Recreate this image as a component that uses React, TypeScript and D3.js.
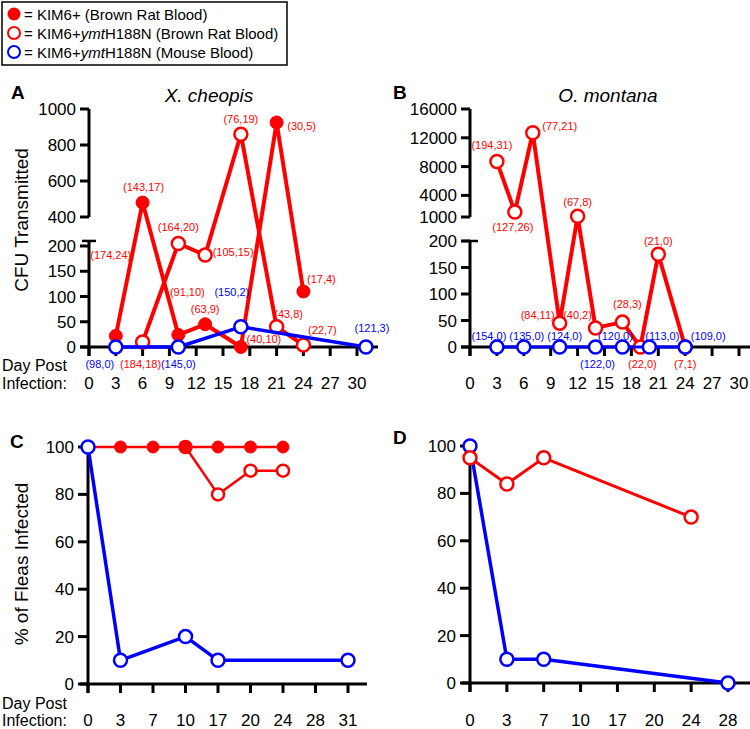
import React from "react";
import * as d3 from "d3";

const RED = "#ff0000";
const BLUE = "#0000ff";
const FONT = "'Liberation Sans', Arial, Helvetica, sans-serif";

// ---------- Panel A : X. cheopis (CFU transmitted) ----------
const daysA_wt = [3, 6, 10, 13, 17, 21, 24];
const cfuA_wt = [22, 480, 24, 45, 0, 925, 110];
const lblA_wt = ["(174,24)", "(143,17)", "(91,10)", "(63,9)", "(40,10)", "(30,5)", "(17,4)"];

const daysA_mut = [6, 10, 13, 17, 21, 24];
const cfuA_mut = [10, 205, 182, 860, 40, 4];
const lblA_mut = ["(184,18)", "(164,20)", "(105,15)", "(76,19)", "(43,8)", "(22,7)"];

const daysA_mouse = [3, 10, 17, 31];
const cfuA_mouse = [0, 0, 40, 0];
const lblA_mouse = ["(98,0)", "(145,0)", "(150,2)", "(121,3)"];

// ---------- Panel B : O. montana ----------
const daysB_mut = [3, 5, 7, 10, 12, 14, 17, 19, 21, 24];
const cfuB_mut = [8700, 1700, 12700, 45, 1100, 36, 47, 0, 175, 0];
const lblB_mut = ["(194,31)", "(127,26)", "(77,21)", "(84,11)", "(67,8)", "(40,2)", "(28,3)", "(22,0)", "(21,0)", "(7,1)"];

const daysB_mouse = [3, 6, 10, 14, 17, 20, 24];
const cfuB_mouse = [0, 0, 0, 0, 0, 0, 0];
const lblB_mouse = ["(154,0)", "(135,0)", "(124,0)", "(122,0)", "(120,0)", "(113,0)", "(109,0)"];

// ---------- Axis ticks ----------
const ticksDayAB = [0, 3, 6, 9, 12, 15, 18, 21, 24, 27, 30];
const ticksA_up = [400, 600, 800, 1000];
const ticksA_low = [0, 50, 100, 150, 200];
const ticksB_up = [1000, 4000, 8000, 12000, 16000];
const ticksB_low = [0, 50, 100, 150, 200];
const ticksPct = [0, 20, 40, 60, 80, 100];

// ---------- Panel C : % infected X. cheopis ----------
const catsC = ["0", "3", "7", "10", "17", "20", "24", "28", "31"];
const daysC_wt = ["0", "3", "7", "10", "17", "20", "24"];
const pctC_wt = [100, 100, 100, 100, 100, 100, 100];
const daysC_mut = ["10", "17", "20", "24"];
const pctC_mut = [100, 80, 90, 90];
const daysC_mouse = ["0", "3", "10", "17", "31"];
const pctC_mouse = [100, 10, 20, 10, 10];

// ---------- Panel D : % infected O. montana ----------
const catsD = ["0", "3", "7", "10", "17", "20", "24", "28"];
const daysD_mut = ["0", "3", "7", "24"];
const pctD_mut = [95, 84, 95, 70];
const daysD_mouse = ["0", "3", "7", "28"];
const pctD_mouse = [100, 10, 10, 0];

// label placement (layout only: offsets from the point, px)
const offA_wt = [[-5, -77], [1, -12], [9, -39], [0, -11], [23, -4], [25, 7], [18, -8]];
const offA_mut = [[-2, 26], [0, -12], [28, 1], [0, -11], [12, -9], [19, -11]];
const offA_mouse = [[-16, 21], [0, 21], [-9, -31], [6, -15]];
const offB_mut = [[-5, -13], [-2, 19], [27, -3], [-22, -4], [0, -10], [-18, -9], [5, -14], [2, 21], [0, -9], [0, 21]];
const offB_mouse = [[-8, -7], [3, -7], [5, -7], [2, 21], [-7, -7], [13, -7], [23, -7]];

type Pt = [number, number];

function Series({ pts, color, filled, lw, r, labels, offs }: {
  pts: Pt[]; color: string; filled: boolean; lw: number; r: number;
  labels?: string[]; offs?: number[][];
}) {
  const path = d3.line()(pts) || "";
  return (
    <g>
      <path d={path} fill="none" stroke={color} strokeWidth={lw} strokeLinejoin="round" />
      {pts.map((p, i) => (
        <circle key={i} cx={p[0]} cy={p[1]} r={r}
          fill={filled ? color : "#fff"} stroke={color} strokeWidth={filled ? 1 : 2.5} />
      ))}
      {labels && offs && pts.map((p, i) => (
        <text key={"l" + i} x={p[0] + offs[i][0]} y={p[1] + offs[i][1]} fill={color}
          fontSize={11} textAnchor="middle" fontFamily={FONT}>{labels[i]}</text>
      ))}
    </g>
  );
}

export default function App() {
  const xA = d3.scaleLinear().domain([0, 30]).range([89, 357]);
  const xB = d3.scaleLinear().domain([0, 30]).range([470, 739]);
  const yALow = d3.scaleLinear().domain([0, 200]).range([347, 246]);
  const yAUp = d3.scaleLinear().domain([400, 1000]).range([217, 109]);
  const yA = (v: number) => (v > 300 ? yAUp(v) : yALow(v));
  const yBLow = d3.scaleLinear().domain([0, 200]).range([347, 241]);
  const yBUp = d3.scaleLinear().domain([1000, 16000]).range([217, 109]);
  const yB = (v: number) => (v > 250 ? yBUp(v) : yBLow(v));

  const xC = d3.scalePoint().domain(catsC).range([88, 348]);
  const yC = d3.scaleLinear().domain([0, 100]).range([684, 447]);
  const xD = d3.scalePoint().domain(catsD).range([470, 728]);
  const yD = d3.scaleLinear().domain([0, 100]).range([683, 446]);

  const tickFs = 17;
  const axW = 3;
  const bottomY = 726;

  const ptsA = (ds: number[], vs: number[]): Pt[] => ds.map((d, i) => [xA(d), yA(vs[i])]);
  const ptsB = (ds: number[], vs: number[]): Pt[] => ds.map((d, i) => [xB(d), yB(vs[i])]);
  const ptsC = (ds: string[], vs: number[]): Pt[] => ds.map((d, i) => [xC(d) as number, yC(vs[i])]);
  const ptsD = (ds: string[], vs: number[]): Pt[] => ds.map((d, i) => [xD(d) as number, yD(vs[i])]);

  const yTicks = (x0: number, ticks: number[], sc: (v: number) => number, len = 9) =>
    ticks.map((t) => (
      <g key={t}>
        <line x1={x0 - len} x2={x0} y1={sc(t)} y2={sc(t)} stroke="#000" strokeWidth={axW} />
        <text x={x0 - len - 4} y={sc(t) + 6} textAnchor="end" fontSize={tickFs} fontFamily={FONT}>{t}</text>
      </g>
    ));

  const xTicksLin = (ticks: number[], sc: (v: number) => number, y0: number, labelY: number) =>
    ticks.map((t) => (
      <g key={t}>
        <line x1={sc(t)} x2={sc(t)} y1={y0} y2={y0 + 9} stroke="#000" strokeWidth={axW} />
        <text x={sc(t)} y={labelY} textAnchor="middle" fontSize={tickFs} fontFamily={FONT}>{t}</text>
      </g>
    ));

  const xTicksCat = (cats: string[], sc: any, y0: number, labelY: number) =>
    cats.map((t) => (
      <g key={t}>
        <line x1={sc(t)} x2={sc(t)} y1={y0} y2={y0 + 9} stroke="#000" strokeWidth={axW} />
        <text x={sc(t)} y={labelY} textAnchor="middle" fontSize={tickFs} fontFamily={FONT}>{t}</text>
      </g>
    ));

  return (
    <svg width={750} height={729} style={{ position: "absolute", left: 0, top: 0, background: "#fff" }}
      fontFamily={FONT}>
      <rect x={0} y={0} width={750} height={729} fill="#fff" />

      {/* Legend */}
      <rect x={2} y={2} width={285} height={63} fill="#fff" stroke="#000" strokeWidth={1.5} />
      <circle cx={14} cy={14} r={6.5} fill={RED} />
      <circle cx={14} cy={33} r={6} fill="#fff" stroke={RED} strokeWidth={2} />
      <circle cx={14} cy={52} r={6} fill="#fff" stroke={BLUE} strokeWidth={2} />
      <text x={24} y={19.5} fontSize={15}>= KIM6+ (Brown Rat Blood)</text>
      <text x={24} y={38.5} fontSize={15}>= KIM6+<tspan fontStyle="italic">ymt</tspan>H188N (Brown Rat Blood)</text>
      <text x={24} y={57.5} fontSize={15}>= KIM6+<tspan fontStyle="italic">ymt</tspan>H188N (Mouse Blood)</text>

      {/* ================= Panel A ================= */}
      <text x={11} y={99} fontSize={19} fontWeight="bold">A</text>
      <text x={209} y={102} fontSize={19} fontStyle="italic" textAnchor="middle">X. cheopis</text>
      <text transform="translate(28,220) rotate(-90)" fontSize={19} textAnchor="middle">CFU Transmitted</text>
      <line x1={89} x2={89} y1={yAUp(1000)} y2={yAUp(400)} stroke="#000" strokeWidth={axW} />
      {yTicks(89, ticksA_up, yAUp)}
      <line x1={89} x2={89} y1={yALow(210)} y2={yALow(0) + 9} stroke="#000" strokeWidth={axW} />
      <line x1={82} x2={96} y1={yALow(210)} y2={yALow(210)} stroke="#000" strokeWidth={2.5} />
      {yTicks(89, ticksA_low, yALow)}
      <line x1={80} x2={378} y1={yALow(0)} y2={yALow(0)} stroke="#000" strokeWidth={axW} />
      {xTicksLin(ticksDayAB, xA, yALow(0), 389)}
      <text x={2} y={371} fontSize={16}>Day Post</text>
      <text x={2} y={389} fontSize={16}>Infection:</text>

      <Series pts={ptsA(daysA_wt, cfuA_wt)} color={RED} filled lw={4} r={6.5} labels={lblA_wt} offs={offA_wt} />
      <Series pts={ptsA(daysA_mut, cfuA_mut)} color={RED} filled={false} lw={4} r={6.5} labels={lblA_mut} offs={offA_mut} />
      <Series pts={ptsA(daysA_mouse, cfuA_mouse)} color={BLUE} filled={false} lw={3.5} r={6.5} labels={lblA_mouse} offs={offA_mouse} />

      {/* ================= Panel B ================= */}
      <text x={393} y={99} fontSize={19} fontWeight="bold">B</text>
      <text x={608} y={102} fontSize={19} fontStyle="italic" textAnchor="middle">O. montana</text>
      <line x1={470} x2={470} y1={yBUp(16000)} y2={yBUp(1000)} stroke="#000" strokeWidth={axW} />
      {yTicks(470, ticksB_up, yBUp)}
      <line x1={470} x2={470} y1={yBLow(200)} y2={yBLow(0) + 9} stroke="#000" strokeWidth={axW} />
      <line x1={463} x2={478} y1={yBLow(200)} y2={yBLow(200)} stroke="#000" strokeWidth={2.5} />
      {yTicks(470, ticksB_low, yBLow)}
      <line x1={461} x2={750} y1={yBLow(0)} y2={yBLow(0)} stroke="#000" strokeWidth={axW} />
      {xTicksLin(ticksDayAB, xB, yBLow(0), 389)}

      <Series pts={ptsB(daysB_mut, cfuB_mut)} color={RED} filled={false} lw={4} r={6.5} labels={lblB_mut} offs={offB_mut} />
      <Series pts={ptsB(daysB_mouse, cfuB_mouse)} color={BLUE} filled={false} lw={3} r={6.5} labels={lblB_mouse} offs={offB_mouse} />

      {/* ================= Panel C ================= */}
      <text x={10} y={448} fontSize={19} fontWeight="bold">C</text>
      <text transform="translate(28,564) rotate(-90)" fontSize={19} textAnchor="middle">% of Fleas Infected</text>
      <line x1={88} x2={88} y1={yC(100)} y2={yC(0) + 9} stroke="#000" strokeWidth={axW} />
      {yTicks(88, ticksPct, yC, 10)}
      <line x1={80} x2={367} y1={yC(0)} y2={yC(0)} stroke="#000" strokeWidth={axW} />
      {xTicksCat(catsC, xC, yC(0), bottomY)}
      <text x={2} y={709} fontSize={16}>Day Post</text>
      <text x={2} y={bottomY} fontSize={16}>Infection:</text>

      <Series pts={ptsC(daysC_mut, pctC_mut)} color={RED} filled={false} lw={2.5} r={6} />
      <Series pts={ptsC(daysC_wt, pctC_wt)} color={RED} filled lw={2.5} r={6} />
      <Series pts={ptsC(daysC_mouse, pctC_mouse)} color={BLUE} filled={false} lw={3.5} r={6.5} />

      {/* ================= Panel D ================= */}
      <text x={393} y={444} fontSize={19} fontWeight="bold">D</text>
      <line x1={470} x2={470} y1={yD(100)} y2={yD(0) + 9} stroke="#000" strokeWidth={axW} />
      {yTicks(470, ticksPct, yD, 10)}
      <line x1={462} x2={750} y1={yD(0)} y2={yD(0)} stroke="#000" strokeWidth={axW} />
      {xTicksCat(catsD, xD, yD(0), bottomY)}

      <Series pts={ptsD(daysD_mouse, pctD_mouse)} color={BLUE} filled={false} lw={3.5} r={6.5} />
      <Series pts={ptsD(daysD_mut, pctD_mut)} color={RED} filled={false} lw={3} r={6.5} />
    </svg>
  );
}
